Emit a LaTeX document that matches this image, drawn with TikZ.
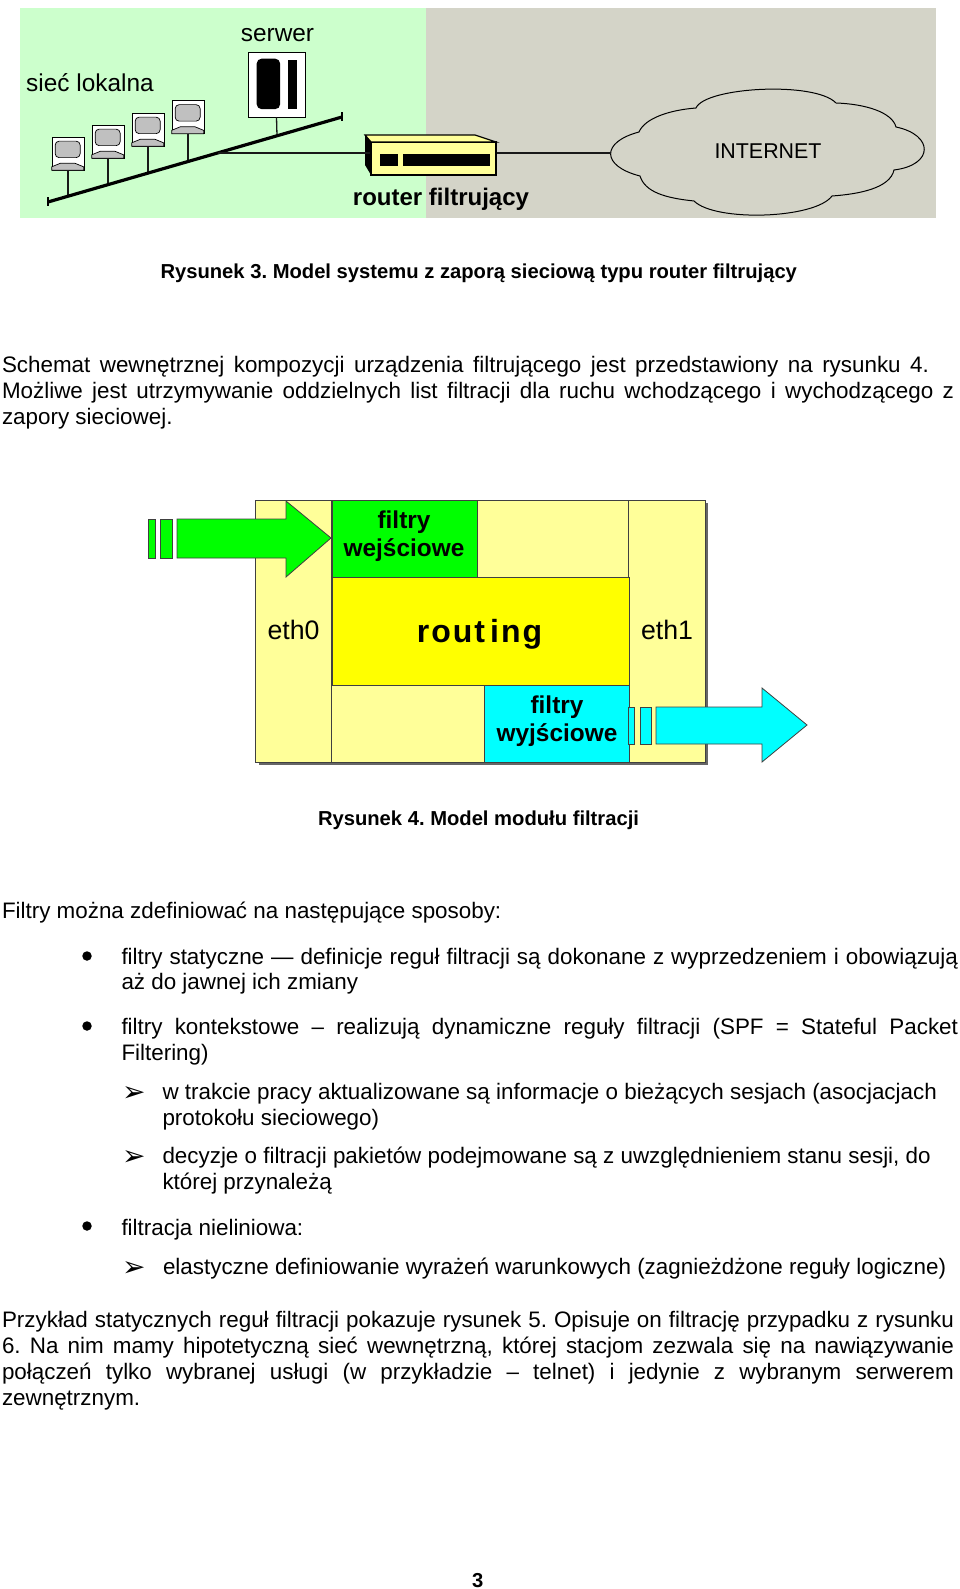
\documentclass[tikz,border=0pt]{standalone}
\usepackage{fontspec}
\setmainfont{Liberation Sans}
\newfontfamily\symfont{DejaVu Sans}
\usetikzlibrary{calc,shadows}
\definecolor{bgGreen}{HTML}{CCFFCC}
\definecolor{bgGray}{HTML}{D4D4C8}
\definecolor{paleY}{HTML}{FFFF99}
\definecolor{pcGray}{HTML}{C0C0C0}
\definecolor{pureCyan}{RGB}{0,255,255}
\definecolor{pureYellow}{RGB}{255,255,0}
\definecolor{pureGreen}{RGB}{0,255,0}
\newcounter{tl}
\frenchspacing
\newcommand{\bodyfont}{\fontsize{22.4}{26}\selectfont}
\newcommand{\capfont}{\fontsize{20.2}{24}\selectfont\bfseries}
% x, baseline y, width, text
\newcommand{\jl}[4]{\stepcounter{tl}\node[txtline] (t\thetl) at (#1,#2) {\bodyfont\makebox[#3pt][s]{#4}};}
\newcommand{\nl}[3]{\stepcounter{tl}\node[txtline] (t\thetl) at (#1,#2) {\bodyfont #3};}
\newcommand{\bul}[2]{\stepcounter{tl}\node[bulletdot] (t\thetl) at (#1,#2) {};}
\newcommand{\arw}[2]{\stepcounter{tl}\node[txtline] (t\thetl) at (#1,#2) {\symfont\fontsize{28}{30}\selectfont ➢};}
\newcommand{\pc}[3]{%
  \node[pcbox] (#1) at (#2,#3) {};
  \draw[fill=pcGray,line width=.7pt,rounded corners=4pt] ($(#1.north west)+(3.5,4.5)$) rectangle ($(#1.north west)+(28.5,21)$);
  \draw[fill=pcGray,line width=.7pt] ($(#1.south west)+(0,0)$) -- ++(0,-3.5) -- ++(8.5,-3.5) -- ++(15,0) -- ++(8.5,3.5) -- ++(0,3.5) -- cycle;
}
\tikzset{
  x=1pt,y=-1pt,
  txtline/.style={anchor=base west,inner sep=0pt,outer sep=0pt},
  bulletdot/.style={circle,fill=black,minimum size=9.5pt,inner sep=0pt},
  pcbox/.style={rectangle,draw,fill=white,minimum width=32pt,minimum height=33pt,inner sep=0pt,line width=.7pt},
  wire/.style={draw=black!90,line width=1.3pt},
  label24/.style={inner sep=0pt,font=\fontsize{24.4}{26}\selectfont},
  areabox/.style={draw=black!75,line width=1pt,fill=paleY},
  diag/.style={align=center,inner sep=0pt,font=\fontsize{24.4}{28.4}\selectfont\bfseries},
}
\begin{document}
\begin{tikzpicture}
\useasboundingbox (0,0) rectangle (960,1589);
\fill[white] (0,0) rectangle (960,1589);
% ---------- Figure 3
\fill[bgGreen] (20,8) rectangle (426,218);
\fill[bgGray] (426,8) rectangle (936,218);
\node[label24] (lSerwer) at (277.5,35) {serwer};
\node[label24,anchor=west] (lSiec) at (26,83) {sieć lokalna};
% bus
\coordinate (busL) at (48,202);
\coordinate (busR) at (342,117);
\coordinate (b1) at (68,196.2);
\coordinate (b2) at (108,184.7);
\coordinate (b3) at (148,173);
\coordinate (b4) at (188,161.5);
\coordinate (b5) at (277,135.8);
\coordinate (b6) at (218,153);
\pc{pc1}{68}{153.5}
\pc{pc2}{108}{141.5}
\pc{pc3}{148}{129.5}
\pc{pc4}{188}{117}
\node[draw,fill=white,line width=.7pt,minimum width=57pt,minimum height=65pt,inner sep=0pt] (srv) at (276.5,84.5) {};
\fill[rounded corners=5pt] ($(srv.north west)+(9,7)$) rectangle ($(srv.north west)+(32.5,57.5)$);
\fill ($(srv.north west)+(40.5,8)$) rectangle ($(srv.north west)+(49,57.5)$);
\draw[wire] (pc1.south) -- (b1);
\draw[wire] (pc2.south) -- (b2);
\draw[wire] (pc3.south) -- (b3);
\draw[wire] (pc4.south) -- (b4);
\draw[wire] (srv.south) -- (b5);
\draw[black,line width=3.2pt] (busL) -- (busR);
\draw[black,line width=2pt] ($(busL)+(0,-4.5)$) -- ($(busL)+(0,4.5)$);
\draw[black,line width=2pt] ($(busR)+(0,-4.5)$) -- ($(busR)+(0,4.5)$);
% router
\node[draw,fill=paleY,line width=1.2pt,minimum width=125pt,minimum height=33pt,inner sep=0pt] (rtr) at (433.5,158.5) {};
\draw[fill=paleY,line width=1.2pt] (365,135) -- (475,135) -- (496,142) -- (371,142) -- cycle;
\fill[black] (365,135) -- (371,142) -- (371,175) -- (365,165) -- cycle;
\fill (380,154) rectangle (398,166);
\fill (403,154) rectangle (490,166);
\draw[wire] (b6) -- (rtr.west |- b6);
\node[inner sep=0pt,font=\fontsize{24}{26}\selectfont\bfseries] (lRouter) at (441,199) {router filtrujący};
% cloud
\coordinate (c1) at (640,176);
\coordinate (cloudW) at (611,153);
\draw[black,line width=1pt,fill=bgGray]
  (c1) .. controls (601,166) and (601,142) .. (639,132)
  .. controls (645,118) and (670,110) .. (696,108)
  .. controls (705,87) and (815,81) .. (836,103)
  .. controls (865,104) and (892,112) .. (896,127)
  .. controls (934,135) and (934,165) .. (894,170)
  .. controls (890,188) and (860,194) .. (832,196)
  .. controls (815,219) and (715,222) .. (694,201)
  .. controls (665,198) and (645,192) .. (c1) -- cycle;
\draw[wire] (rtr.east |- cloudW) -- (cloudW);
\node[inner sep=0pt,font=\fontsize{21.4}{26}\selectfont] (lInet) at (768,151) {INTERNET};
% ---------- Figure 4
\fill[black!60] (258.5,503) rectangle (708,765);
\node[areabox,anchor=north west,minimum width=450pt,minimum height=262pt,inner sep=0pt] (outer) at (255,500) {};
\draw[black!75,line width=1pt] (331.5,500) -- (331.5,762);
\draw[black!75,line width=1pt] (628.5,500) -- (628.5,762);
\node[draw=black!75,line width=1pt,fill=pureGreen,anchor=north west,minimum width=145pt,minimum height=77pt,inner sep=0pt] (fin) at (331.5,500) {};
\node[diag] at (404,536) {filtry\\wejściowe};
\node[draw=black!75,line width=1pt,fill=pureYellow,anchor=north west,minimum width=297pt,minimum height=108pt,inner sep=0pt] (rout) at (331.5,577) {};
\node[inner sep=0pt,font=\fontsize{32}{36}\selectfont\bfseries] (lRout) at (479.5,634) {r\kern2pt o\kern2pt u\kern2pt t\kern5pt i\kern2pt n\kern2pt g};
\node[draw=black!75,line width=1pt,fill=pureCyan,anchor=north west,minimum width=144.5pt,minimum height=77pt,inner sep=0pt] (fout) at (484,685) {};
\node[diag] at (557,721) {filtry\\wyjściowe};
\node[inner sep=0pt,font=\fontsize{26.7}{28}\selectfont] (lEth0) at (293.5,630) {eth0};
\node[inner sep=0pt,font=\fontsize{26.7}{28}\selectfont] (lEth1) at (667,630) {eth1};
% arrows
\draw[black!75,line width=.8pt,fill=pureGreen] (148.5,519) rectangle (155,558);
\draw[black!75,line width=.8pt,fill=pureGreen] (160,519) rectangle (172,558);
\draw[black!75,line width=.8pt,fill=pureGreen] (177,519) -- (286,519) -- (286,501) -- (331,538) -- (286,577) -- (286,558) -- (177,558) -- cycle;
\draw[black!75,line width=.8pt,fill=pureCyan] (628.5,707) rectangle (634,744);
\draw[black!75,line width=.8pt,fill=pureCyan] (640,707) rectangle (651,744);
\draw[black!75,line width=.8pt,fill=pureCyan] (656,707) -- (762,707) -- (762,688) -- (807,725) -- (762,762) -- (762,744) -- (656,744) -- cycle;
% ---------- text
\node[txtline,font=\capfont] (cap3) at (160.5,279) {Rysunek 3. Model systemu z zaporą sieciową typu router filtrujący};
\jl{2}{372}{927}{Schemat wewnętrznej kompozycji urządzenia filtrującego jest przedstawiony na rysunku 4.}
\jl{2}{398}{952}{Możliwe jest utrzymywanie oddzielnych list filtracji dla ruchu wchodzącego i wychodzącego z}
\nl{2}{424}{zapory sieciowej.}
\node[txtline,font=\capfont] (cap4) at (318,825) {Rysunek 4. Model modułu filtracji};
\nl{2}{918}{Filtry można zdefiniować na następujące sposoby:}
\bul{87}{956}
\jl{121.5}{964}{836.5}{filtry statyczne — definicje reguł filtracji są dokonane z wyprzedzeniem i obowiązują}
\nl{121.5}{989}{aż do jawnej ich zmiany}
\bul{87}{1026}
\jl{121.5}{1034}{836.5}{filtry kontekstowe – realizują dynamiczne reguły filtracji (SPF = Stateful Packet}
\nl{121.5}{1060}{Filtering)}
\arw{122}{1101}
\nl{162.5}{1099}{w trakcie pracy aktualizowane są informacje o bieżących sesjach (asocjacjach}
\nl{162.5}{1125}{protokołu sieciowego)}
\arw{122}{1165}
\nl{162.5}{1163}{decyzje o filtracji pakietów podejmowane są z uwzględnieniem stanu sesji, do}
\nl{162.5}{1189}{której przynależą}
\bul{87}{1226}
\nl{121.5}{1235}{filtracja nieliniowa:}
\arw{122}{1276}
\nl{163}{1274}{elastyczne definiowanie wyrażeń warunkowych (zagnieżdżone reguły logiczne)}
\jl{2}{1327}{952}{Przykład statycznych reguł filtracji pokazuje rysunek 5. Opisuje on filtrację przypadku z rysunku}
\jl{2}{1353}{952}{6. Na nim mamy hipotetyczną sieć wewnętrzną, której stacjom zezwala się na nawiązywanie}
\jl{2}{1379}{952}{połączeń tylko wybranej usługi (w przykładzie – telnet) i jedynie z wybranym serwerem}
\nl{2}{1405}{zewnętrznym.}
\node[txtline,font=\capfont] (pgnum) at (472,1587) {3};
\end{tikzpicture}
\end{document}
